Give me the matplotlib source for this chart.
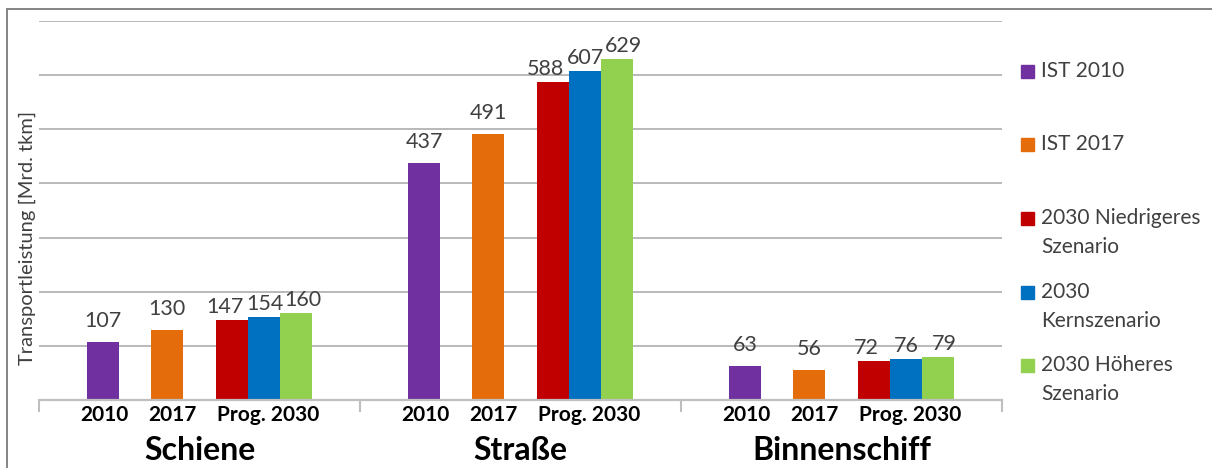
import matplotlib
matplotlib.use("Agg")
import matplotlib.pyplot as plt
from matplotlib.lines import Line2D
from matplotlib.patches import Rectangle
from matplotlib.transforms import blended_transform_factory, offset_copy

plt.rcParams['font.family'] = ['Lato', 'DejaVu Sans']

# --- data -------------------------------------------------------------
modes = ["Schiene", "Straße", "Binnenschiff"]
period_labels = ["2010", "2017", "Prog. 2030"]
ist_2010 = [107, 437, 63]
ist_2017 = [130, 491, 56]
szen_niedrig = [147, 588, 72]
szen_kern = [154, 607, 76]
szen_hoch = [160, 629, 79]
series_labels = ["IST 2010", "IST 2017", "2030 Niedrigeres\nSzenario",
                 "2030\nKernszenario", "2030 Höheres\nSzenario"]
y_label = "Transportleistung [Mrd. tkm]"

# --- styling ------------------------------------------------------------
colors = ["#7030A0", "#E46C0A", "#C00000", "#0070C0", "#92D050"]
series = [ist_2010, ist_2017, szen_niedrig, szen_kern, szen_hoch]
slots = [2, 4, 6, 7, 8]            # bar centre within a 10-slot group
period_pos = [2.05, 4.15, 7.15]    # period label centre within group
group_w = 10
label_dx = [0, 0, -7, 1, 7]        # label nudges (px) for the clustered bars
label_dy = [15, 15, 7, 7, 7]       # gap (px) between bar top and label baseline

W, H, DPI = 1212, 468, 100
fig = plt.figure(figsize=(W / DPI, H / DPI), dpi=DPI)
px = 72 / DPI  # points per pixel

ax_l, ax_r, ax_t, ax_b = 39, 1002, 21, 400
ax = fig.add_axes([ax_l / W, 1 - ax_b / H, (ax_r - ax_l) / W, (ax_b - ax_t) / H])

for s, (vals, col) in enumerate(zip(series, colors)):
    xs = [g * group_w + slots[s] for g in range(len(modes))]
    ax.bar(xs, vals, width=1.0, color=col, zorder=3)
    for x, v in zip(xs, vals):
        ax.annotate(f"{v}", (x, v), xytext=(label_dx[s] * px, label_dy[s] * px),
                    textcoords="offset points", ha="center", va="baseline",
                    fontsize=15.5, color="#404040", zorder=4)

ax.set_xlim(0, group_w * len(modes))
ax.set_ylim(0, 700)
ax.set_yticks(range(0, 701, 100))
ax.yaxis.grid(True, color="#A6A6A6", linewidth=1.1, zorder=0)
ax.tick_params(axis="y", length=0, labelleft=False)
ax.set_xticks([g * group_w for g in range(len(modes) + 1)])
ax.tick_params(axis="x", length=12 * px, width=1.5, color="#BFBFBF",
               labelbottom=False, direction="out")
for side in ["top", "right", "left"]:
    ax.spines[side].set_visible(False)
ax.spines["bottom"].set_color("#BFBFBF")
ax.spines["bottom"].set_linewidth(1.6)
ax.spines["bottom"].set_zorder(5)

# two-level category labels
trans = blended_transform_factory(ax.transData, ax.transAxes)
sub_tr = offset_copy(trans, fig=fig, x=0, y=-15 * px, units="points")
main_tr = offset_copy(trans, fig=fig, x=0, y=-50 * px, units="points")
for g, mode in enumerate(modes):
    for p, lab in zip(period_pos, period_labels):
        ax.text(g * group_w + p, 0, lab, transform=sub_tr, ha="center",
                va="center", fontsize=15, fontweight="bold", color="#000000")
    ax.text(g * group_w + group_w / 2, 0, mode, transform=main_tr, ha="center",
            va="center", fontsize=23, fontweight="bold", color="#000000")

fig.text(27 / W, 1 - 238 / H, y_label, rotation=90, ha="center", va="center",
         fontsize=14.5, color="#404040")

# legend
leg_y = [71, 144, 218, 292, 365]
line_gap = 29
for lab, col, yc in zip(series_labels, colors, leg_y):
    fig.patches.append(Rectangle((1021 / W, 1 - (yc + 6.5) / H), 13 / W, 13 / H,
                                 transform=fig.transFigure, color=col))
    for i, line in enumerate(lab.split("\n")):
        fig.text(1041 / W, 1 - (yc + i * line_gap) / H, line, ha="left",
                 va="center", fontsize=15, color="#404040")

# outer frame
frame = dict(color="#878787", linewidth=2 * px, transform=fig.transFigure)
fig.lines.append(Line2D([7 / W, 7 / W], [0, 1 - 9 / H], **frame))
fig.lines.append(Line2D([7 / W, 1], [1 - 9 / H, 1 - 9 / H], **frame))

fig.savefig("out.png", dpi=DPI, facecolor="white")
